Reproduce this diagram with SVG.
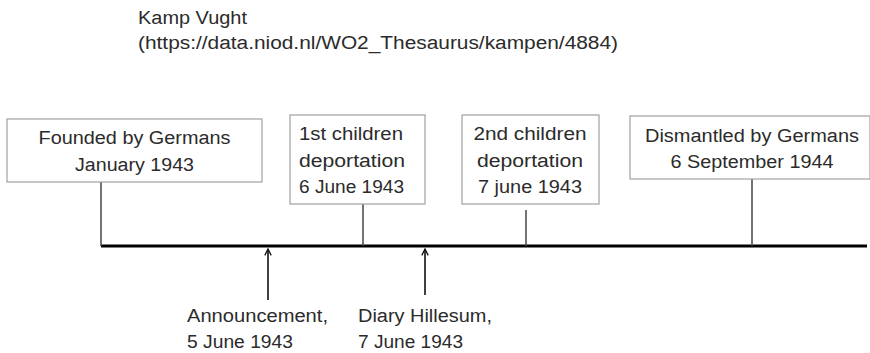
<svg xmlns="http://www.w3.org/2000/svg" width="870" height="353" viewBox="0 0 870 353">
<defs>
<style>
text{font-family:"Liberation Sans",Arial,sans-serif;font-size:18px;fill:#2b2b2b}
.box{fill:#fff;stroke:#a0a0a0;stroke-width:1.2}
.tick{stroke:#444;stroke-width:1.5;fill:none}
.axis{stroke:#000;stroke-width:3;fill:none}
.arr{stroke:#111;stroke-width:1.6;fill:none}
.c{text-anchor:middle}
</style>
<marker id="ah" viewBox="0 0 10 10" refX="9" refY="5" markerWidth="8" markerHeight="8" markerUnits="userSpaceOnUse" orient="auto">
<path d="M1,1 L9,5 L1,9" fill="none" stroke="#111" stroke-width="1.6"/>
</marker>
</defs>
<rect width="870" height="353" fill="#fff"/>
<g id="title">
<text x="138" y="24" textLength="109" lengthAdjust="spacingAndGlyphs">Kamp Vught</text>
<text x="138" y="49" textLength="480" lengthAdjust="spacingAndGlyphs">(https://data.niod.nl/WO2_Thesaurus/kampen/4884)</text>
</g>
<g id="connectors">
<line class="axis" x1="101" y1="246" x2="867" y2="246"/>
<line class="tick" x1="101" y1="182" x2="101" y2="246"/>
<line class="tick" x1="363" y1="204" x2="363" y2="246"/>
<line class="tick" x1="526" y1="210" x2="526" y2="246"/>
<line class="tick" x1="752" y1="179" x2="752" y2="246"/>
<line class="arr" x1="268" y1="300" x2="268" y2="249" marker-end="url(#ah)"/>
<line class="arr" x1="425" y1="295" x2="425" y2="249" marker-end="url(#ah)"/>
</g>
<g id="founded">
<rect class="box" x="7" y="119" width="255" height="63"/>
<text class="c" x="134.5" y="144" textLength="192" lengthAdjust="spacingAndGlyphs">Founded by Germans</text>
<text class="c" x="134.5" y="171" textLength="119" lengthAdjust="spacingAndGlyphs">January 1943</text>
</g>
<g id="first-deportation">
<rect class="box" x="290" y="115" width="135" height="89"/>
<text x="299" y="140" textLength="104" lengthAdjust="spacingAndGlyphs">1st children</text>
<text x="299" y="167" textLength="106" lengthAdjust="spacingAndGlyphs">deportation</text>
<text x="299" y="193" textLength="105" lengthAdjust="spacingAndGlyphs">6 June 1943</text>
</g>
<g id="second-deportation">
<rect class="box" x="462" y="115" width="137" height="89"/>
<text class="c" x="530" y="140" textLength="113" lengthAdjust="spacingAndGlyphs">2nd children</text>
<text class="c" x="530" y="167" textLength="106" lengthAdjust="spacingAndGlyphs">deportation</text>
<text class="c" x="530" y="193" textLength="104" lengthAdjust="spacingAndGlyphs">7 june 1943</text>
</g>
<g id="dismantled">
<rect class="box" x="630" y="116" width="240" height="63"/>
<text class="c" x="752" y="142" textLength="214" lengthAdjust="spacingAndGlyphs">Dismantled by Germans</text>
<text class="c" x="752" y="168" textLength="163" lengthAdjust="spacingAndGlyphs">6 September 1944</text>
</g>
<g id="announcement">
<text x="187" y="322" textLength="141" lengthAdjust="spacingAndGlyphs">Announcement,</text>
<text x="187" y="348" textLength="106" lengthAdjust="spacingAndGlyphs">5 June 1943</text>
</g>
<g id="diary">
<text x="358" y="322" textLength="134" lengthAdjust="spacingAndGlyphs">Diary Hillesum,</text>
<text x="358" y="348" textLength="105" lengthAdjust="spacingAndGlyphs">7 June 1943</text>
</g>
</svg>
